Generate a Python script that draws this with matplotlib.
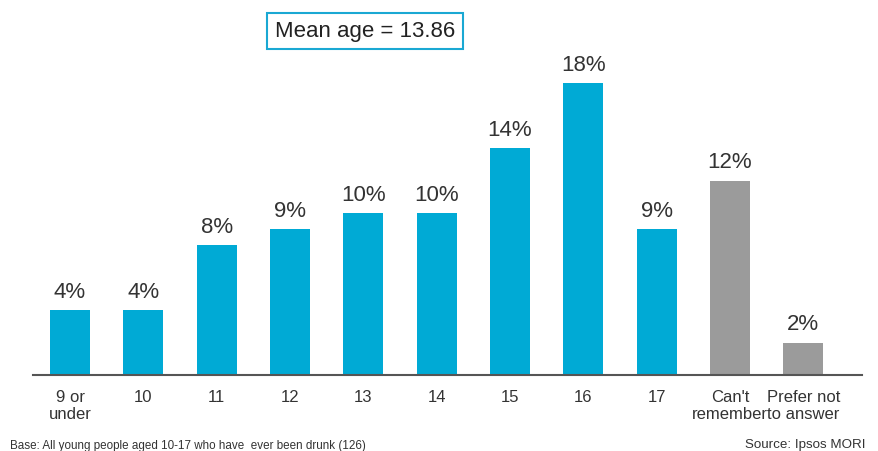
import matplotlib.pyplot as plt

plt.rcParams['font.family'] = ['Liberation Sans', 'DejaVu Sans']

categorias = ["9 or\nunder", "10", "11", "12", "13", "14", "15", "16", "17",
              "Can't\nremember", "Prefer not\nto answer"]
valores = [4, 4, 8, 9, 10, 10, 14, 18, 9, 12, 2]
etiquetas = ["4%", "4%", "8%", "9%", "10%", "10%", "14%", "18%", "9%", "12%", "2%"]
colores = ['#00AAD5'] * 9 + ['#9B9B9B'] * 2

W, H = 879, 452
fig = plt.figure(figsize=(W / 100, H / 100), dpi=100)
ax = fig.add_axes([33 / W, 76 / H, 829 / W, 324 / H])

x = list(range(len(categorias)))
ax.bar(x, valores, width=0.546, color=colores)
for i in x:
    ax.text(i, valores[i] + 0.5, etiquetas[i], ha='center', va='bottom',
            fontsize=16, color='#333333')

ax.set_xlim(-0.505, 10.8)
ax.set_ylim(0, 20)
ax.set_xticks(x)
ax.set_xticklabels(categorias, fontsize=12, color='#333333', linespacing=1.15)
ax.tick_params(axis='x', length=0, pad=10)
ax.set_yticks([])
for s in ['top', 'right', 'left']:
    ax.spines[s].set_visible(False)
ax.spines['bottom'].set_color('#555555')
ax.spines['bottom'].set_linewidth(1.5)

# cuadro de la media
fig.text(0.5 * (262 + 468) / W, 1 - 32 / H, "Mean age = 13.86", ha='center', va='center',
         fontsize=16, color='#222222',
         bbox=dict(boxstyle='square,pad=0.35', fc='white', ec='#1AA8D3', lw=1.5))

fig.text(10 / W, 1 - 446 / H, "Base: All young people aged 10-17 who have  ever been drunk (126)",
         ha='left', va='center', fontsize=8.4, color='#333333')
fig.text(866 / W, 1 - 445 / H, "Source: Ipsos MORI", ha='right', va='center',
         fontsize=9.6, color='#333333')

fig.savefig('out.png', dpi=100)
